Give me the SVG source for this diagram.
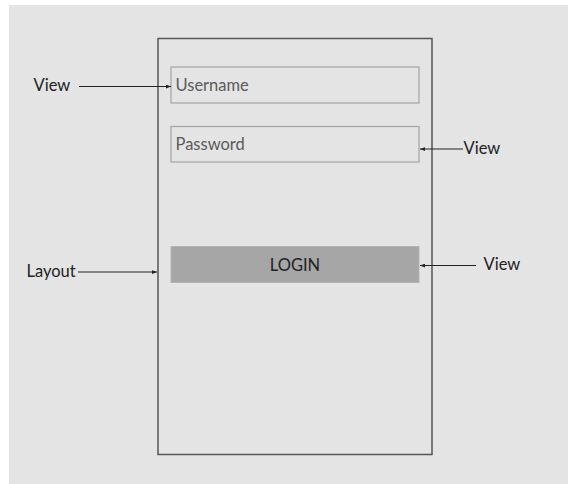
<svg xmlns="http://www.w3.org/2000/svg" width="568" height="484" viewBox="0 0 568 484">
<style>
.lbl{font-family:Lato,"Liberation Sans",sans-serif;font-size:16.5px;fill:#222}
.ph{font-family:Lato,"Liberation Sans",sans-serif;font-size:16.5px;fill:#5a5a5a}
.field{fill:#e4e4e4;stroke:#a4a4a4;stroke-width:1.2}
.conn{stroke:#222;stroke-width:1;fill:none;marker-end:url(#ah)}
</style>
<defs>
<marker id="ah" viewBox="0 0 8 6" refX="8" refY="3" markerWidth="5" markerHeight="4" markerUnits="userSpaceOnUse" orient="auto">
<path d="M0,0 L8,3 L0,6 z" fill="#222"/>
</marker>
</defs>
<rect x="0" y="0" width="568" height="484" fill="#ffffff"/>
<rect x="9" y="5" width="559" height="479" fill="#e4e4e4"/>
<g id="layout">
<rect x="158" y="38.5" width="274" height="416" fill="none" stroke="#555" stroke-width="1.5"/>
</g>
<g id="username">
<rect class="field" x="171" y="67" width="248" height="36"/>
<text class="ph" x="175.5" y="90.7">Username</text>
</g>
<g id="password">
<rect class="field" x="171" y="126.5" width="248" height="35.5"/>
<text class="ph" x="175.5" y="149.5">Password</text>
</g>
<g id="login">
<rect x="171" y="246.5" width="248" height="36" fill="#a6a6a6" stroke="#b4b4b4" stroke-width="1"/>
<text class="lbl" x="295" y="270.5" text-anchor="middle" font-size="16" fill="#111">LOGIN</text>
</g>
<g id="label-view-1"><text class="lbl" x="33.5" y="91">View</text></g>
<g id="label-view-2"><text class="lbl" x="463.5" y="154">View</text></g>
<g id="label-view-3"><text class="lbl" x="483.5" y="270">View</text></g>
<g id="label-layout"><text class="lbl" x="26.5" y="277">Layout</text></g>
<g id="connectors">
<line class="conn" x1="79" y1="86.5" x2="171" y2="86.5"/>
<line class="conn" x1="463" y1="149" x2="420" y2="149"/>
<line class="conn" x1="476" y1="265.5" x2="420" y2="265.5"/>
<line class="conn" x1="78" y1="272" x2="157" y2="272"/>
</g>
</svg>
